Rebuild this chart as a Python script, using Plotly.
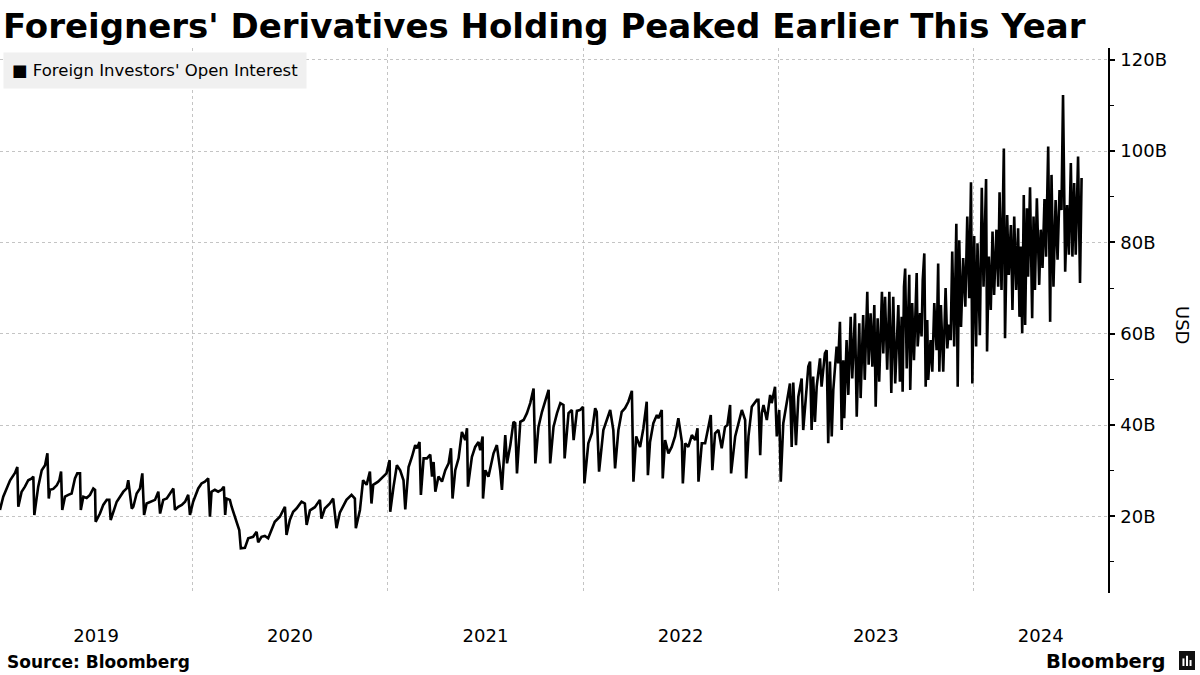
import pandas as pd
import plotly.graph_objects as go

# ---------------- data ----------------
# position within each calendar year (fraction of year) and open interest in USD bn
years = [2019, 2020, 2021, 2022, 2023, 2024]

pos_2019 = [0.015, 0.032, 0.067, 0.092, 0.104, 0.109, 0.126, 0.143, 0.160, 0.178,
            0.186, 0.191, 0.211, 0.229, 0.246, 0.258, 0.265, 0.271, 0.288, 0.306,
            0.319, 0.328, 0.334, 0.348, 0.365, 0.382, 0.399, 0.411, 0.425, 0.429,
            0.442, 0.459, 0.476, 0.493, 0.502, 0.505, 0.527, 0.544, 0.562, 0.575,
            0.582, 0.595, 0.613, 0.630, 0.647, 0.664, 0.672, 0.690, 0.698, 0.715,
            0.732, 0.744, 0.753, 0.766, 0.792, 0.809, 0.826, 0.835, 0.851, 0.869,
            0.886, 0.903, 0.911, 0.928, 0.946, 0.963, 0.979, 0.988]
val_2019 = [21.4, 24.3, 27.9, 29.5, 30.8, 22.1, 25.4, 26.5, 27.9, 28.3,
            28.7, 20.3, 26.5, 30.1, 31.2, 33.8, 23.9, 25.8, 26.0, 26.8,
            27.9, 29.8, 21.4, 24.3, 24.7, 25.0, 28.3, 29.4, 29.4, 21.4,
            24.3, 24.0, 24.7, 26.1, 25.8, 18.8, 20.6, 22.5, 23.6, 23.6,
            19.2, 21.0, 23.2, 24.3, 25.4, 26.1, 27.9, 21.7, 22.1, 25.0,
            26.1, 29.4, 20.3, 22.8, 23.2, 23.6, 25.4, 20.6, 23.6, 23.9,
            25.0, 26.1, 21.4, 22.1, 22.5, 23.2, 24.7, 20.3]

pos_2020 = [0.005, 0.031, 0.048, 0.065, 0.082, 0.091, 0.099, 0.116, 0.133, 0.150,
            0.162, 0.169, 0.176, 0.193, 0.202, 0.219, 0.230, 0.241, 0.249, 0.270,
            0.287, 0.312, 0.330, 0.338, 0.355, 0.372, 0.389, 0.406, 0.423, 0.449,
            0.475, 0.483, 0.500, 0.517, 0.534, 0.560, 0.577, 0.586, 0.603, 0.628,
            0.654, 0.662, 0.679, 0.705, 0.722, 0.739, 0.756, 0.790, 0.816, 0.833,
            0.838, 0.859, 0.875, 0.893, 0.910, 0.918, 0.927, 0.952, 0.970, 0.995]
val_2020 = [23.2, 26.1, 27.2, 27.6, 28.3, 19.9, 25.4, 25.8, 25.4, 25.8,
            26.5, 20.3, 23.9, 23.6, 22.1, 19.9, 18.1, 17.0, 13.0, 13.1,
            15.2, 15.5, 16.6, 14.3, 15.5, 15.7, 15.2, 17.0, 18.8, 19.9,
            22.1, 15.9, 19.2, 21.0, 21.7, 23.2, 22.8, 18.1, 21.3, 22.0,
            23.6, 19.5, 21.7, 22.8, 23.9, 17.4, 20.8, 23.6, 24.7, 23.9,
            17.4, 21.4, 27.9, 26.9, 29.8, 22.8, 26.9, 27.6, 28.3, 29.4]

pos_2021 = [0.009, 0.012, 0.029, 0.046, 0.063, 0.080, 0.089, 0.106, 0.123, 0.140,
            0.149, 0.162, 0.169, 0.183, 0.200, 0.217, 0.226, 0.234, 0.243, 0.259,
            0.277, 0.294, 0.311, 0.323, 0.331, 0.345, 0.362, 0.379, 0.396, 0.405,
            0.410, 0.430, 0.447, 0.464, 0.473, 0.485, 0.487, 0.499, 0.515, 0.541,
            0.558, 0.575, 0.584, 0.601, 0.610, 0.627, 0.643, 0.652, 0.661, 0.678,
            0.695, 0.712, 0.729, 0.746, 0.755, 0.771, 0.789, 0.806, 0.823, 0.831,
            0.848, 0.866, 0.883, 0.899, 0.905, 0.925, 0.942, 0.951, 0.968, 0.985,
            0.999]
val_2021 = [32.3, 21.0, 26.5, 31.2, 30.1, 27.9, 21.5, 30.8, 33.0, 35.6,
            34.9, 36.3, 24.7, 32.7, 32.7, 33.5, 28.7, 31.9, 25.4, 28.7,
            27.6, 30.1, 31.6, 34.9, 23.9, 30.1, 32.7, 38.5, 36.7, 39.3,
            26.5, 33.0, 35.2, 36.3, 34.5, 37.5, 23.9, 30.1, 28.7, 33.8,
            35.6, 30.1, 25.8, 37.8, 31.6, 35.6, 40.7, 40.4, 29.4, 40.7,
            41.1, 42.6, 44.8, 48.0, 31.6, 39.6, 42.9, 45.5, 47.7, 31.6,
            39.6, 42.6, 44.8, 44.4, 32.7, 42.6, 43.3, 36.7, 43.1, 43.3,
            44.0]

pos_2022 = [0.007, 0.027, 0.045, 0.062, 0.070, 0.082, 0.104, 0.122, 0.139, 0.155,
            0.164, 0.181, 0.198, 0.215, 0.232, 0.250, 0.258, 0.272, 0.292, 0.309,
            0.326, 0.332, 0.343, 0.360, 0.378, 0.386, 0.403, 0.408, 0.420, 0.437,
            0.454, 0.471, 0.488, 0.506, 0.511, 0.523, 0.539, 0.557, 0.574, 0.586,
            0.591, 0.608, 0.625, 0.642, 0.654, 0.662, 0.676, 0.693, 0.710, 0.727,
            0.739, 0.753, 0.758, 0.779, 0.795, 0.813, 0.830, 0.835, 0.847, 0.864,
            0.890, 0.898, 0.907, 0.915, 0.924, 0.941, 0.958, 0.966, 0.983, 0.992]
val_2022 = [27.2, 36.0, 38.2, 43.7, 42.9, 29.8, 38.9, 41.1, 43.3, 38.9,
            30.5, 38.9, 42.9, 43.7, 45.1, 47.5, 27.6, 37.5, 35.2, 39.3,
            45.1, 29.0, 36.3, 40.4, 42.2, 41.5, 43.3, 28.3, 36.7, 33.8,
            35.2, 37.5, 41.5, 36.3, 27.2, 36.0, 35.2, 37.8, 36.7, 39.3,
            27.6, 36.0, 36.0, 39.6, 42.2, 30.1, 38.2, 38.9, 34.9, 39.6,
            40.0, 44.4, 29.4, 37.5, 40.0, 43.3, 41.1, 28.3, 37.5, 44.0,
            45.5, 45.5, 33.4, 42.6, 44.4, 41.1, 46.6, 44.8, 48.4, 37.5]

pos_2023 = [0.005, 0.013, 0.026, 0.043, 0.060, 0.069, 0.077, 0.091, 0.103, 0.120,
            0.128, 0.146, 0.154, 0.163, 0.171, 0.179, 0.188, 0.197, 0.205, 0.214,
            0.222, 0.239, 0.248, 0.256, 0.265, 0.274, 0.282, 0.299, 0.307, 0.316,
            0.325, 0.333, 0.338, 0.350, 0.359, 0.371, 0.379, 0.393, 0.402, 0.415,
            0.422, 0.435, 0.443, 0.456, 0.463, 0.473, 0.482, 0.492, 0.499, 0.509,
            0.517, 0.531, 0.538, 0.547, 0.558, 0.569, 0.579, 0.589, 0.599, 0.615,
            0.623, 0.632, 0.637, 0.644, 0.650, 0.658, 0.671, 0.676, 0.686, 0.695,
            0.709, 0.714, 0.726, 0.734, 0.740, 0.748, 0.755, 0.763, 0.768, 0.780,
            0.789, 0.799, 0.811, 0.819, 0.825, 0.833, 0.845, 0.857, 0.866, 0.874,
            0.883, 0.891, 0.901, 0.912, 0.919, 0.927, 0.936, 0.947, 0.958, 0.968,
            0.978, 0.987, 0.994]
val_2023 = [43.3, 27.6, 40.4, 45.1, 49.1, 35.2, 49.3, 35.6, 46.2, 50.2,
            38.9, 48.4, 52.8, 53.9, 38.9, 50.6, 40.7, 48.4, 51.0, 54.6,
            48.4, 55.7, 56.4, 36.0, 53.9, 37.5, 47.7, 57.2, 53.5, 62.6,
            38.9, 54.2, 41.5, 58.6, 46.6, 63.7, 50.2, 64.5, 41.8, 62.3,
            45.9, 64.1, 49.9, 69.2, 53.2, 64.5, 52.8, 66.3, 44.0, 63.4,
            49.5, 69.2, 55.7, 68.1, 52.1, 69.2, 47.0, 68.1, 49.1, 66.3,
            49.5, 63.7, 47.3, 70.3, 74.3, 52.4, 72.9, 47.7, 66.7, 54.2,
            73.3, 57.2, 64.5, 59.4, 71.8, 77.6, 48.4, 63.0, 49.9, 58.6,
            51.7, 66.7, 56.4, 75.4, 51.7, 66.3, 51.7, 70.0, 56.8, 62.0,
            58.6, 78.0, 57.2, 84.1, 48.4, 80.5, 61.5, 76.6, 65.9, 85.7,
            67.8, 93.2, 49.1]

pos_2024 = [0.004, 0.014, 0.021, 0.033, 0.043, 0.052, 0.059, 0.065, 0.070, 0.079,
            0.089, 0.098, 0.106, 0.118, 0.127, 0.134, 0.144, 0.156, 0.162, 0.173,
            0.181, 0.192, 0.200, 0.209, 0.219, 0.229, 0.236, 0.243, 0.250, 0.258,
            0.265, 0.274, 0.280, 0.290, 0.301, 0.308, 0.315, 0.325, 0.337, 0.345,
            0.354, 0.364, 0.372, 0.383, 0.393, 0.400, 0.410, 0.421, 0.431, 0.441,
            0.451, 0.459, 0.470, 0.480, 0.489, 0.499, 0.507, 0.516, 0.524, 0.536,
            0.546, 0.554]
val_2024 = [81.4, 57.2, 79.8, 59.7, 92.0, 70.3, 86.0, 93.9, 56.1, 76.9,
            65.2, 82.4, 68.5, 82.8, 70.3, 91.0, 69.6, 100.6, 59.0, 86.0,
            72.9, 83.8, 65.2, 85.7, 69.6, 83.1, 63.7, 79.1, 60.1, 90.4,
            61.9, 87.5, 72.5, 92.1, 63.4, 85.7, 69.6, 89.7, 70.7, 82.8,
            74.4, 89.5, 76.9, 101.0, 62.6, 94.8, 70.3, 89.3, 76.2, 91.5,
            87.1, 112.3, 73.6, 88.2, 77.3, 97.4, 76.9, 93.0, 77.3, 98.8,
            71.1, 94.1]

y_ticks = [20, 40, 60, 80, 100, 120]
y_tick_text = [f"{v}B" for v in y_ticks]

# ---------------- build series ----------------
positions = {2019: pos_2019, 2020: pos_2020, 2021: pos_2021,
             2022: pos_2022, 2023: pos_2023, 2024: pos_2024}
values = {2019: val_2019, 2020: val_2020, 2021: val_2021,
          2022: val_2022, 2023: val_2023, 2024: val_2024}

dates, oi = [], []
for yr in years:
    assert len(positions[yr]) == len(values[yr]), yr
    base = pd.Timestamp(f"{yr}-01-01")
    for f, v in zip(positions[yr], values[yr]):
        dates.append(base + pd.Timedelta(days=f * 365.25))
        oi.append(v)

x0 = pd.Timestamp("2019-01-06 14:00")
x1 = pd.Timestamp("2024-09-08 18:00")

# year labels centred in the visible part of each year; gridlines at year starts
label_pos, label_txt = [], []
for yr in years:
    s = max(pd.Timestamp(f"{yr}-01-01"), x0)
    e = min(pd.Timestamp(f"{yr + 1}-01-01"), x1)
    label_pos.append(s + (e - s) / 2)
    label_txt.append(str(yr))
grid_dates = [x0 + pd.Timedelta(hours=12)] + [pd.Timestamp(f"{yr}-01-01") for yr in years[1:]]

GRID = "#c4c4c4"
FONT = "DejaVu Sans"

fig = go.Figure()
fig.add_trace(go.Scatter(
    x=dates, y=oi, mode="lines",
    line=dict(color="#000000", width=2.6),
    name="Foreign Investors' Open Interest",
    showlegend=False, hoverinfo="skip",
))

fig.update_layout(
    width=1200, height=675,
    margin=dict(l=0, r=92, t=48, b=82),
    paper_bgcolor="white", plot_bgcolor="white",
    font=dict(family=FONT, color="#000000", size=18),
    title=dict(
        text="<b>Foreigners' Derivatives Holding Peaked Earlier This Year</b>",
        font=dict(family=FONT, size=34, color="#000000"),
        xref="container", yref="container",
        x=0.0025, xanchor="left", y=0.962, yanchor="middle",
    ),
    xaxis=dict(
        type="date", range=[x0, x1],
        tickmode="array", tickvals=label_pos, ticktext=label_txt,
        showgrid=False, ticks="", ticklabelstandoff=30,
        tickfont=dict(size=18, color="#000000"),
        showline=False, zeroline=False,
        minor=dict(tickmode="array", tickvals=grid_dates, showgrid=True,
                   gridcolor=GRID, griddash="dot", gridwidth=1, ticks=""),
    ),
    yaxis=dict(
        side="right", range=[3.2, 122.6],
        tickmode="array", tickvals=y_ticks, ticktext=y_tick_text,
        showgrid=True, gridcolor=GRID, griddash="dot", gridwidth=1,
        ticks="outside", ticklen=5, tickwidth=1.5, tickcolor="#000000",
        showline=True, linecolor="#000000", linewidth=1.5,
        zeroline=False, ticklabelstandoff=2,
        tickfont=dict(size=18, color="#000000"),
        minor=dict(dtick=10, tick0=0, ticks="outside", ticklen=4,
                   tickcolor="#000000", tickwidth=1, showgrid=False),
    ),
)

annotations = [
    dict(text="■ Foreign Investors' Open Interest", xref="paper", yref="paper",
         x=0.0027, y=0.9927, xanchor="left", yanchor="top", showarrow=False,
         bgcolor="#f0f0f0", borderpad=8,
         font=dict(family=FONT, size=16.5, color="#000000")),
    dict(text="USD", xref="paper", yref="paper", x=1.0677, y=0.4917,
         xanchor="center", yanchor="middle", textangle=90, showarrow=False,
         font=dict(family=FONT, size=18, color="#000000")),
    dict(text="<b>Source: Bloomberg</b>", xref="paper", yref="paper",
         x=0.0045, y=-0.1266, xanchor="left", yanchor="middle", showarrow=False,
         font=dict(family=FONT, size=17, color="#000000")),
    dict(text="<b>Bloomberg</b>", xref="paper", yref="paper",
         x=1.0532, y=-0.1248, xanchor="right", yanchor="middle", showarrow=False,
         font=dict(family=FONT, size=19.5, color="#000000")),
]
fig.update_layout(annotations=annotations)

# small Bloomberg logo mark
shapes = [
    dict(type="rect", xref="paper", yref="paper", x0=1.0641, x1=1.0785,
         y0=-0.1413, y1=-0.1064, fillcolor="#111111", line=dict(width=0)),
]
for bx0, bx1, top in [(1.0672, 1.0690, -0.1200), (1.0704, 1.0722, -0.1150),
                      (1.0736, 1.0754, -0.1230)]:
    shapes.append(dict(type="rect", xref="paper", yref="paper", x0=bx0, x1=bx1,
                       y0=-0.1340, y1=top, fillcolor="white", line=dict(width=0)))
fig.update_layout(shapes=shapes)

fig.write_html("out.html",
               config={"displayModeBar": False},
               post_script="document.body.style.margin='0';document.body.style.overflow='hidden';")
